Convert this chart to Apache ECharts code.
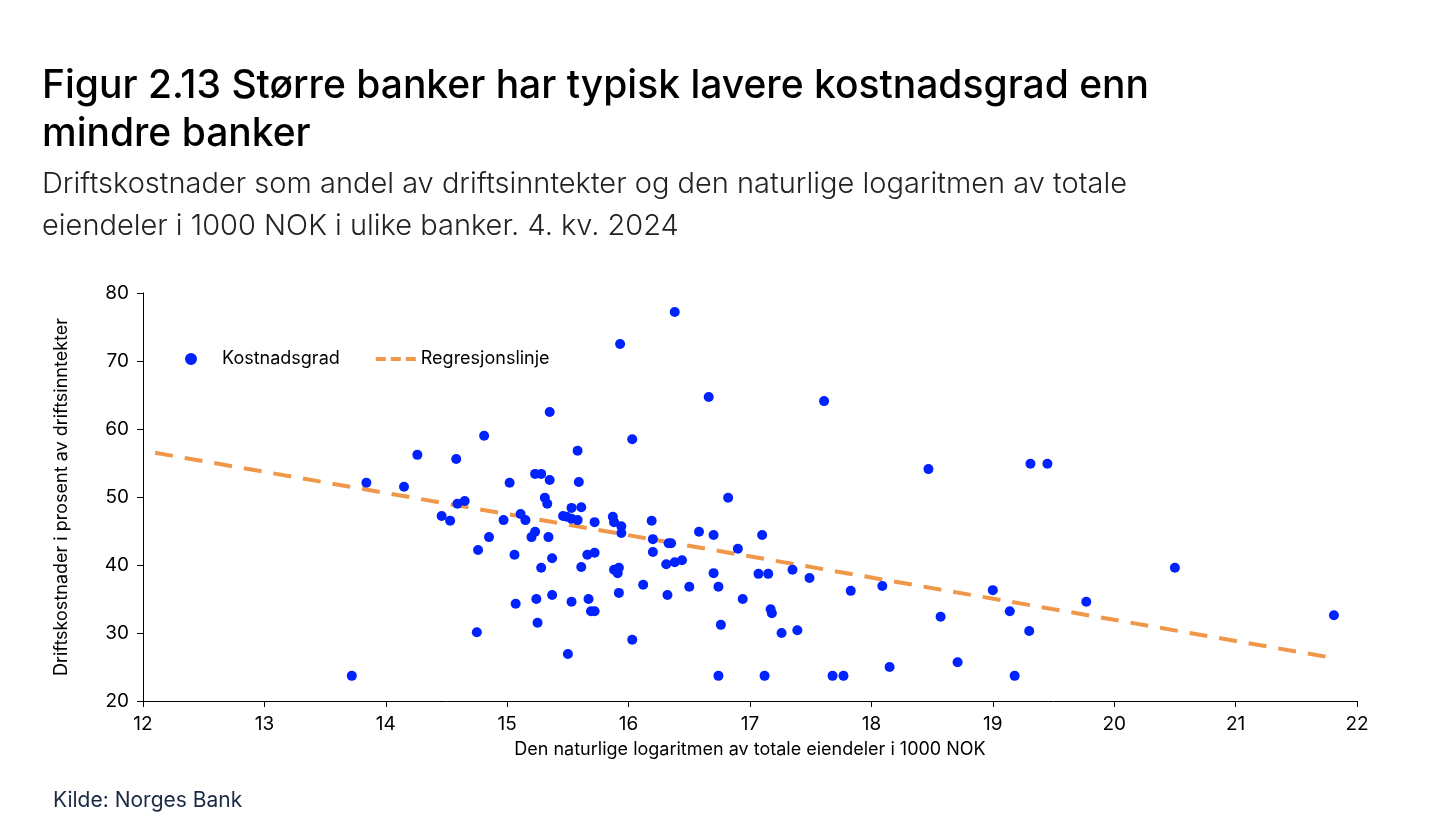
<!DOCTYPE html>
<html>
<head>
<meta charset="utf-8">
<script src="https://cdn.jsdelivr.net/npm/echarts@6/dist/echarts.min.js"></script>
<style>
html,body{margin:0;padding:0;background:#fff;}
#main{width:1445px;height:827px;}
</style>
</head>
<body>
<div id="main"></div>
<script>
// ln(totale eiendeler) og kostnadsgrad per bank
var lnAssets = [13.72,13.84,14.15,14.26,14.46,14.53,14.58,14.59,14.65,14.75,14.76,14.81,14.85,14.97,15.02,15.06,15.07,15.11,15.15,15.20,15.23,15.23,15.24,15.25,15.28,15.28,15.31,15.33,15.34,15.35,15.35,15.37,15.37,15.46,15.49,15.50,15.53,15.53,15.53,15.58,15.58,15.59,15.61,15.61,15.66,15.67,15.69,15.72,15.72,15.72,15.87,15.88,15.88,15.91,15.92,15.92,15.93,15.94,15.94,16.03,16.03,16.12,16.19,16.20,16.20,16.31,16.32,16.33,16.35,16.38,16.38,16.44,16.50,16.58,16.66,16.70,16.70,16.74,16.74,16.76,16.82,16.90,16.94,17.07,17.10,17.12,17.15,17.17,17.18,17.26,17.35,17.39,17.49,17.61,17.68,17.77,17.83,18.09,18.15,18.47,18.57,18.71,19.00,19.14,19.18,19.30,19.31,19.45,19.77,20.50,21.81];
var costRatio = [23.7,52.1,51.5,56.2,47.2,46.5,55.6,49.0,49.4,30.1,42.2,59.0,44.1,46.6,52.1,41.5,34.3,47.5,46.6,44.1,53.4,44.9,35.0,31.5,53.4,39.6,49.9,49.0,44.1,52.5,62.5,41.0,35.6,47.2,47.1,26.9,46.8,48.4,34.6,46.6,56.8,52.2,39.7,48.5,41.5,35.0,33.2,33.2,41.8,46.3,47.1,46.3,39.3,38.8,39.6,35.9,72.5,45.7,44.7,58.5,29.0,37.1,46.5,43.8,41.9,40.1,35.6,43.2,43.2,77.2,40.4,40.7,36.8,44.9,64.7,44.4,38.8,23.7,36.8,31.2,49.9,42.4,35.0,38.7,44.4,23.7,38.7,33.5,32.9,30.0,39.3,30.4,38.1,64.1,23.7,23.7,36.2,36.9,25.0,54.1,32.4,25.7,36.3,33.2,23.7,30.3,54.9,54.9,34.6,39.6,32.6];
var regX = [12.1, 21.75];
var regY = [56.5, 26.5];

var points = lnAssets.map(function(x, i){ return [x, costRatio[i]]; });
var regLine = regX.map(function(x, i){ return [x, regY[i]]; });

var font = 'Inter, "Noto Sans", sans-serif';
var myChart = echarts.init(document.getElementById('main'));
var option = {
    backgroundColor: '#fff',
    textStyle: { fontFamily: font },
    title: [{
        text: 'Figur 2.13 Større banker har typisk lavere kostnadsgrad enn\nmindre banker',
        left: 37, top: 57,
        textStyle: { fontSize: 39, fontWeight: 500, color: '#000', lineHeight: 48, fontFamily: font }
    }, {
        text: 'Driftskostnader som andel av driftsinntekter og den naturlige logaritmen av totale\neiendeler i 1000 NOK i ulike banker. 4. kv. 2024',
        left: 37, top: 158,
        textStyle: { fontSize: 29, fontWeight: 300, color: '#222', lineHeight: 42, fontFamily: font }
    }, {
        text: 'Kilde: Norges Bank',
        left: 48, top: 785,
        textStyle: { fontSize: 21, fontWeight: 400, color: '#1a2a44', fontFamily: font }
    }],
    legend: {
        left: 172, top: 345,
        itemGap: 36,
        itemWidth: 40, itemHeight: 12,
        textStyle: { fontSize: 18, color: '#000' },
        data: [
            { name: 'Kostnadsgrad', icon: 'path://M14,0a6,6 0 1,0 0.01,0z M0,0z M40,12z', itemStyle: { color: '#0022ff' } },
            { name: 'Regresjonslinje', icon: 'path://M0,4h10v4h-10z M15,4h10v4h-10z M30,4h10v4h-10z M0,0z M40,12z', itemStyle: { color: '#f0974a' } }
        ]
    },
    grid: { left: 143, right: 88, top: 293, bottom: 126 },
    xAxis: {
        type: 'value', min: 12, max: 22, interval: 1,
        name: 'Den naturlige logaritmen av totale eiendeler i 1000 NOK',
        nameLocation: 'middle', nameGap: 40,
        nameTextStyle: { fontSize: 18, color: '#000' },
        axisLine: { lineStyle: { color: '#000', width: 1 } },
        axisTick: { show: true, length: 6, lineStyle: { color: '#000' } },
        axisLabel: { fontSize: 19, color: '#000', margin: 14 },
        splitLine: { show: false }
    },
    yAxis: {
        type: 'value', min: 20, max: 80, interval: 10,
        name: 'Driftskostnader i prosent av driftsinntekter',
        nameLocation: 'middle', nameGap: 72,
        nameTextStyle: { fontSize: 18, color: '#000' },
        axisLine: { show: true, lineStyle: { color: '#000', width: 1 } },
        axisTick: { show: true, length: 6, lineStyle: { color: '#000' } },
        axisLabel: { fontSize: 19, color: '#000', margin: 14 },
        splitLine: { show: false }
    },
    series: [{
        name: 'Kostnadsgrad',
        type: 'scatter',
        data: points,
        symbolSize: 10,
        itemStyle: { color: '#0022ff', opacity: 1 },
        z: 3
    }, {
        name: 'Regresjonslinje',
        type: 'line',
        data: regLine,
        symbol: 'none',
        lineStyle: { color: '#f0974a', width: 4, type: [18, 12] },
        itemStyle: { color: '#f0974a' },
        z: 2
    }]
};
myChart.setOption(option);
</script>
</body>
</html>
